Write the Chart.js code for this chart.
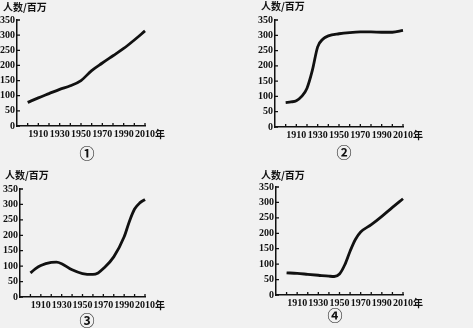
<!DOCTYPE html>
<html>
<head>
<meta charset="utf-8">
<script src="https://cdn.jsdelivr.net/npm/chart.js@4/dist/chart.umd.min.js"></script>
<style>
  html, body { margin: 0; padding: 0; background: #f1f1f1; }
  #wrap { position: relative; width: 473px; height: 328px; overflow: hidden; }
  canvas { position: absolute; }
</style>
</head>
<body>
<div id="wrap">
  <canvas id="c1" width="236" height="164" style="left:0;top:0"></canvas>
  <canvas id="c2" width="237" height="164" style="left:236px;top:0"></canvas>
  <canvas id="c3" width="236" height="164" style="left:0;top:164px"></canvas>
  <canvas id="c4" width="237" height="164" style="left:236px;top:164px"></canvas>
</div>
<script>
// x axis ticks (every decade), labels every 20 years
const xTicks = [1900, 1910, 1920, 1930, 1940, 1950, 1960, 1970, 1980, 1990, 2000, 2010];
const yTicks = [0, 50, 100, 150, 200, 250, 300, 350];
const yTitle = '人数/百万';
const yearUnit = '年';

// ① steady growth
const years1 = [1900, 1910, 1920, 1930, 1940, 1950, 1960, 1970, 1980, 1990, 2000, 2010];
const pop1 = [78, 93, 107, 121, 133, 150, 183, 208, 232, 256, 284, 314];

// ② fast rise then flat
const years2 = [1900, 1905, 1910, 1915, 1920, 1925, 1930, 1935, 1940, 1950, 1960, 1970, 1980, 1990, 2000, 2010];
const pop2 = [80, 82, 86, 100, 127, 185, 262, 288, 298, 305, 309, 311, 311, 310, 310, 316];

// ③ hump, dip, then rise
const years3 = [1900, 1905, 1910, 1920, 1925, 1930, 1940, 1950, 1960, 1965, 1970, 1980, 1990, 1995, 2000, 2005, 2010];
const pop3 = [78, 92, 102, 112, 113, 108, 88, 76, 73, 78, 92, 130, 195, 245, 285, 305, 316];

// ④ slight decline then rise
const years4 = [1900, 1910, 1920, 1930, 1940, 1945, 1950, 1955, 1960, 1965, 1970, 1980, 1990, 2000, 2010];
const pop4 = [72, 70, 67, 64, 61, 60, 68, 98, 142, 180, 204, 228, 255, 284, 312];

const INK = '#111111';

// title, circled number, inner tick marks and the 年 unit
const decorPlugin = {
  id: 'decor',
  afterDraw(chart, args, opts) {
    const ctx = chart.ctx;
    const xs = chart.scales.x, ys = chart.scales.y;
    ctx.save();
    ctx.strokeStyle = INK;
    ctx.lineWidth = 1.3;
    ctx.beginPath();
    xTicks.forEach(v => {
      const px = xs.getPixelForValue(v);
      ctx.moveTo(px, xs.top);
      ctx.lineTo(px, xs.top - 3);
    });
    yTicks.forEach(v => {
      const py = ys.getPixelForValue(v);
      ctx.moveTo(ys.right, py);
      ctx.lineTo(ys.right + 3, py);
    });
    ctx.stroke();

    ctx.fillStyle = INK;
    ctx.textBaseline = 'middle';
    ctx.textAlign = 'left';
    ctx.font = 'bold 10px "Noto Sans CJK SC"';
    ctx.fillText(yTitle, opts.titleX, opts.titleY);
    ctx.fillText(yearUnit, xs.getPixelForValue(2010) + 10, xs.top + 8);

    ctx.textAlign = 'center';
    ctx.font = 'bold 15px "Noto Sans CJK SC"';
    ctx.fillText(opts.mark, opts.markX, opts.markY);
    ctx.restore();
  }
};

function makeChart(id, years, values, area, decor) {
  const w = document.getElementById(id).width;
  const h = document.getElementById(id).height;
  const xH = 16;
  return new Chart(document.getElementById(id), {
    type: 'line',
    data: {
      datasets: [{
        data: years.map((y, i) => ({ x: y, y: values[i] })),
        borderColor: INK,
        borderWidth: 2.8,
        pointRadius: 0,
        cubicInterpolationMode: 'monotone',
        fill: false
      }]
    },
    options: {
      responsive: false,
      animation: false,
      clip: false,
      layout: { padding: { left: 0, top: area.top, right: w - area.right, bottom: h - area.bottom - xH } },
      plugins: {
        legend: { display: false },
        tooltip: { enabled: false },
        decor: decor
      },
      scales: {
        x: {
          type: 'linear',
          min: 1890,
          max: 2010,
          afterFit: s => { s.height = xH; },
          afterBuildTicks: s => { s.ticks = xTicks.map(v => ({ value: v })); },
          grid: { display: false, drawTicks: false },
          border: { display: true, color: INK, width: 1.5 },
          ticks: {
            autoSkip: false,
            maxRotation: 0,
            padding: 2,
            color: INK,
            font: { family: 'Liberation Serif', weight: 'bold', size: 10 },
            callback: v => ((v - 1910) % 20 === 0 ? String(v) : '')
          }
        },
        y: {
          min: 0,
          max: 350,
          afterFit: s => { s.width = area.left; },
          grid: { display: false, drawTicks: false },
          border: { display: true, color: INK, width: 1.5 },
          ticks: {
            stepSize: 50,
            padding: 2,
            color: INK,
            font: { family: 'Liberation Serif', weight: 'bold', size: 10 }
          }
        }
      }
    },
    plugins: [decorPlugin]
  });
}

makeChart('c1', years1, pop1, { left: 17, top: 20, right: 145, bottom: 126 },
  { titleX: 3, titleY: 7, mark: '①', markX: 87, markY: 153 });
makeChart('c2', years2, pop2, { left: 39, top: 20, right: 167, bottom: 127 },
  { titleX: 25, titleY: 6, mark: '②', markX: 108, markY: 152 });
makeChart('c3', years3, pop3, { left: 20, top: 25, right: 145, bottom: 133 },
  { titleX: 5, titleY: 11, mark: '③', markX: 87, markY: 156 });
makeChart('c4', years4, pop4, { left: 40, top: 23, right: 167, bottom: 131 },
  { titleX: 25, titleY: 11, mark: '④', markX: 99, markY: 151 });
</script>
</body>
</html>
